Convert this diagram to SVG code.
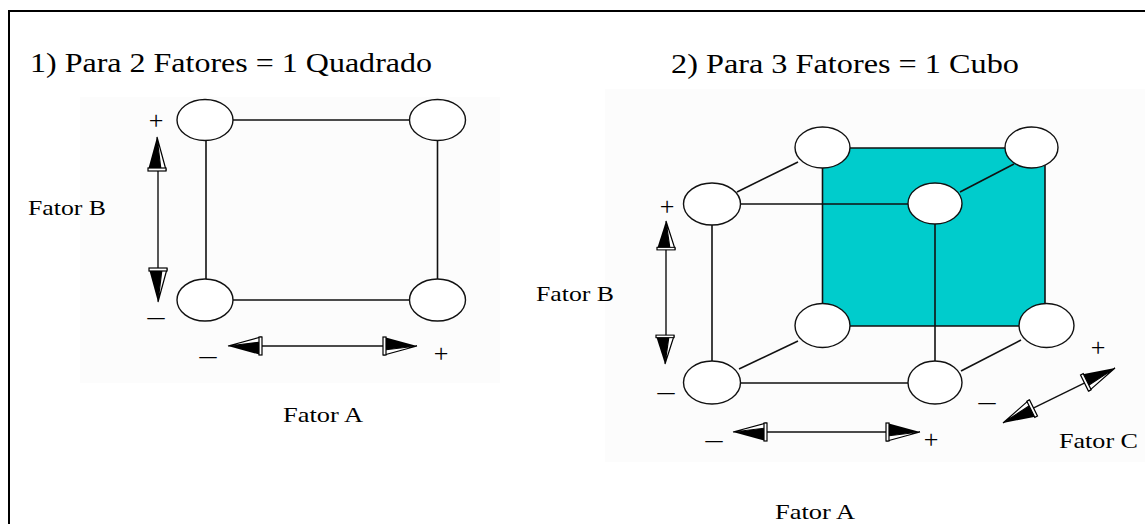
<svg xmlns="http://www.w3.org/2000/svg" width="1145" height="524" viewBox="0 0 1145 524">
<style>
 .t{font-family:"Liberation Serif","Times New Roman",serif;fill:#000}
 .title{font-size:27px}
 .lbl{font-size:22px}
 .sg{font-size:26px}
 .n{fill:#fff;stroke:#111;stroke-width:1.4}
 .e{stroke:#111;stroke-width:1.6;fill:none}
 .ax{stroke:#111;stroke-width:1.4;fill:none}
 .bd{stroke:#000;stroke-width:2;fill:none}
</style>
<defs>
 <g id="ah">
  <polygon points="-33,-9 0,0 -33,4" fill="#000"/>
  <polygon points="-33,4 0,0 -33,9" fill="#fff" stroke="#000" stroke-width="1.2"/>
  <rect x="-34" y="-9" width="3" height="18" fill="#fff" stroke="#000" stroke-width="1.2"/>
 </g>
</defs>
<rect x="0" y="0" width="1145" height="524" fill="#fff"/>
<rect x="80" y="97" width="420" height="286" fill="#fcfcfc"/>
<rect x="605" y="89" width="540" height="373" fill="#fcfcfc"/>
<g id="border">
 <line class="bd" x1="9" y1="11" x2="1145" y2="11"/>
 <line class="bd" x1="9" y1="10" x2="9" y2="524"/>
</g>
<g id="titles">
 <text class="t title" x="30" y="72" textLength="402" lengthAdjust="spacingAndGlyphs">1) Para 2 Fatores =  1 Quadrado</text>
 <text class="t title" x="671" y="73" textLength="348" lengthAdjust="spacingAndGlyphs">2) Para 3 Fatores =  1 Cubo</text>
</g>
<g id="cube-face">
 <rect x="822.5" y="148" width="222.5" height="178" fill="#00CCCC"/>
</g>
<g id="connectors">
 <line class="e" x1="233" y1="120" x2="409" y2="120"/>
 <line class="e" x1="206" y1="140" x2="206" y2="280"/>
 <line class="e" x1="437.5" y1="140" x2="437.5" y2="280"/>
 <line class="e" x1="233" y1="300" x2="409" y2="300"/>
 <line class="e" x1="740" y1="204" x2="908" y2="204"/>
 <line class="e" x1="737" y1="192" x2="798" y2="162"/>
 <line class="e" x1="960" y1="192" x2="1014" y2="164"/>
 <line class="e" x1="850" y1="148" x2="1005" y2="148"/>
 <line class="e" x1="822.5" y1="148" x2="822.5" y2="304"/>
 <line class="e" x1="1045" y1="165" x2="1045" y2="304"/>
 <line class="e" x1="850" y1="326" x2="1019" y2="326"/>
 <line class="e" x1="712" y1="225" x2="712" y2="361"/>
 <line class="e" x1="935" y1="224" x2="935" y2="361"/>
 <line class="e" x1="740" y1="383" x2="908" y2="383"/>
 <line class="e" x1="739" y1="369" x2="798" y2="341"/>
 <line class="e" x1="961" y1="371" x2="1021" y2="340"/>
</g>
<g id="square-nodes">
 <ellipse id="sq-tl" class="n" cx="205" cy="120" rx="28" ry="20.5"/>
 <ellipse id="sq-tr" class="n" cx="437.5" cy="120" rx="28" ry="20.5"/>
 <ellipse id="sq-bl" class="n" cx="205" cy="300" rx="28" ry="21"/>
 <ellipse id="sq-br" class="n" cx="437.5" cy="300" rx="28" ry="21"/>
</g>
<g id="cube-nodes">
 <ellipse id="cb-btl" class="n" cx="822.5" cy="147.5" rx="27.5" ry="20.5"/>
 <ellipse id="cb-btr" class="n" cx="1031.5" cy="147.5" rx="26.5" ry="20.5"/>
 <ellipse id="cb-ftl" class="n" cx="712" cy="204" rx="28.5" ry="21"/>
 <ellipse id="cb-ftr" class="n" cx="935" cy="203.5" rx="27" ry="20.5"/>
 <ellipse id="cb-bbl" class="n" cx="822.5" cy="325.5" rx="27.5" ry="22"/>
 <ellipse id="cb-bbr" class="n" cx="1046.5" cy="325.5" rx="27.5" ry="22"/>
 <ellipse id="cb-fbl" class="n" cx="712" cy="382.5" rx="28.5" ry="21.5"/>
 <ellipse id="cb-fbr" class="n" cx="935" cy="382.5" rx="27" ry="21.5"/>
</g>
<g id="axes">
 <line class="ax" x1="158" y1="168" x2="158" y2="273"/>
 <use href="#ah" transform="translate(157,137) rotate(-90)"/>
 <use href="#ah" transform="translate(158,302) rotate(90) scale(1,-1)"/>
 <line class="ax" x1="260" y1="346" x2="385" y2="346"/>
 <use href="#ah" transform="translate(228,346) rotate(180)"/>
 <use href="#ah" transform="translate(417,346)"/>
 <line class="ax" x1="666" y1="248" x2="666" y2="337"/>
 <use href="#ah" transform="translate(666,221) rotate(-90) scale(0.85,1)"/>
 <use href="#ah" transform="translate(665,364) rotate(90) scale(0.85,-1)"/>
 <line class="ax" x1="767" y1="432" x2="889" y2="432"/>
 <use href="#ah" transform="translate(733,432) rotate(180)"/>
 <use href="#ah" transform="translate(920,432)"/>
 <line class="ax" x1="1031.7" y1="408.9" x2="1086.3" y2="382.1"/>
 <use href="#ah" transform="translate(1115,368) rotate(-26.2)"/>
 <use href="#ah" transform="translate(1003,423) rotate(153.8)"/>
</g>
<g id="labels">
 <text class="t lbl" x="28" y="215" textLength="78" lengthAdjust="spacingAndGlyphs">Fator B</text>
 <text class="t lbl" x="283" y="422" textLength="80" lengthAdjust="spacingAndGlyphs">Fator A</text>
 <text class="t lbl" x="536" y="301" textLength="78" lengthAdjust="spacingAndGlyphs">Fator B</text>
 <text class="t lbl" x="775" y="519" textLength="80" lengthAdjust="spacingAndGlyphs">Fator A</text>
 <text class="t lbl" x="1059" y="448" textLength="79" lengthAdjust="spacingAndGlyphs">Fator C</text>
 <text class="t sg" x="156" y="129" text-anchor="middle">+</text>
 <text class="t sg" x="147.5" y="325" textLength="17" lengthAdjust="spacingAndGlyphs">–</text>
 <text class="t sg" x="199.5" y="364" textLength="17" lengthAdjust="spacingAndGlyphs">–</text>
 <text class="t sg" x="441" y="362" text-anchor="middle">+</text>
 <text class="t sg" x="667" y="215" text-anchor="middle">+</text>
 <text class="t sg" x="657.5" y="400" textLength="17" lengthAdjust="spacingAndGlyphs">–</text>
 <text class="t sg" x="705.5" y="448" textLength="17" lengthAdjust="spacingAndGlyphs">–</text>
 <text class="t sg" x="931" y="448" text-anchor="middle">+</text>
 <text class="t sg" x="1098" y="356" text-anchor="middle">+</text>
 <text class="t sg" x="978.5" y="410" textLength="17" lengthAdjust="spacingAndGlyphs">–</text>
</g>
</svg>
